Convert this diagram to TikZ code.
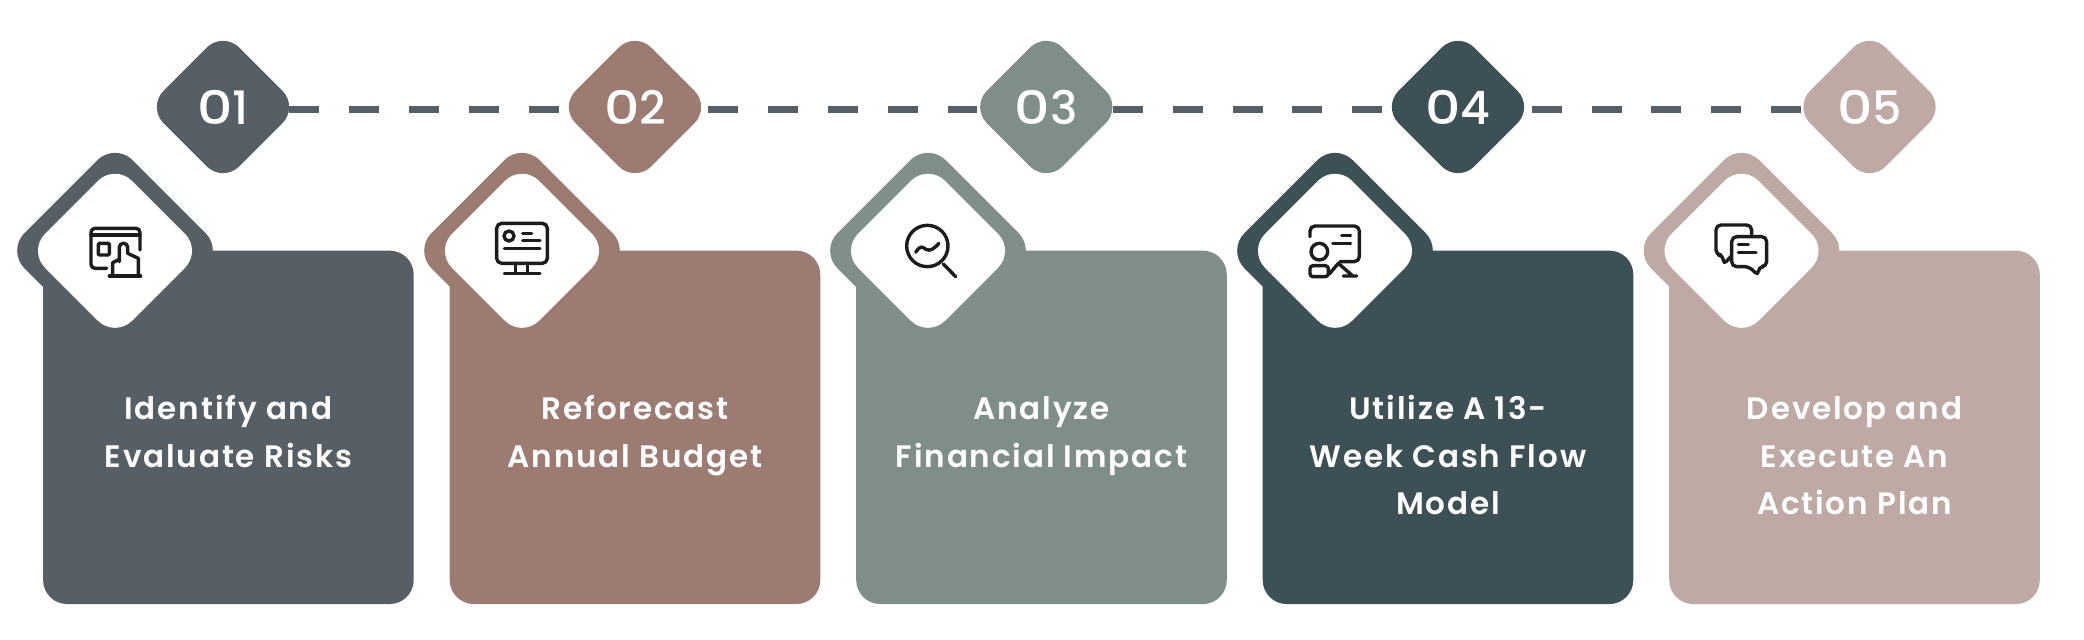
\documentclass[tikz,border=0pt]{standalone}
\usepackage{fontspec}
\usepackage{graphicx}
\newfontfamily\numfont{Poppins Medium}[LetterSpace=0]
\newfontfamily\labelfont{Poppins SemiBold}[LetterSpace=6]
\newcommand{\zr}{\scalebox{1.2}[1]{0}}
\definecolor{cA}{HTML}{555F65}
\definecolor{cB}{HTML}{9C7C72}
\definecolor{cC}{HTML}{7F8E88}
\definecolor{cD}{HTML}{3C5055}
\definecolor{cE}{HTML}{BFA9A4}
\definecolor{inkc}{HTML}{1C1C1C}
\tikzset{
  numdia/.style={shape=rectangle,rotate=45,minimum size=107pt*0.5,fill=#1,rounded corners=11.5pt,inner sep=0pt,outer sep=0pt},
  numtext/.style={text=white,inner sep=0pt,font=\numfont\fontsize{23}{23}\selectfont},
  outerdia/.style={shape=rectangle,rotate=45,minimum size=153pt*0.5,fill=#1,rounded corners=12.5pt,inner sep=0pt,outer sep=0pt},
  innerdia/.style={shape=rectangle,rotate=45,minimum size=123pt*0.5,fill=white,rounded corners=12pt,inner sep=0pt,outer sep=0pt},
  card/.style={shape=rectangle,minimum width=185.3pt,minimum height=176.7pt,fill=#1,rounded corners=12pt,inner sep=0pt,outer sep=0pt},
  cardtext/.style={text=white,align=center,inner sep=0pt,anchor=base,font=\labelfont\fontsize{15.5}{23.75}\selectfont},
  dashline/.style={draw=cA,line width=3.15pt,dash pattern=on 15pt off 14.915pt},
  icon/.style={draw=inkc,line width=1.7pt,line cap=round,line join=round},
}
\begin{document}
\begin{tikzpicture}[x=0.5pt,y=-0.5pt]
\useasboundingbox[fill=white] (0,0) rectangle (2084,640);
% number diamonds and dashed links
\node[numdia=cA] (n1) at (223,107) {};
\node[numdia=cC] (n3) at (1046.3,107) {};
\node[numdia=cE] (n5) at (1869.5,107) {};
\draw[dashline] ([shift={(33.2pt,-1.25pt)}]n1.center) -- ([shift={(-34.5pt,-1.25pt)}]n3.center);
\draw[dashline] ([shift={(33.3pt,-1.25pt)}]n3.center) -- ([shift={(-34.1pt,-1.25pt)}]n5.center);
\node[numdia=cB] (n2) at (635,107) {};
\node[numdia=cD] (n4) at (1458,107) {};
\node[numtext] (t1) at (n1.center) {\zr1};
\node[numtext] (t2) at (n2.center) {\zr2};
\node[numtext] (t3) at (n3.center) {\zr3};
\node[numtext] (t4) at (n4.center) {\zr4};
\node[numtext] (t5) at (n5.center) {\zr5};
% cards
\foreach \nm/\col/\cx/\dx/\txt/\ty in {
  a/cA/228.4/115/{Identify and\\Evaluate Risks}/467.5,
  b/cB/635/522/{Reforecast\\Annual Budget}/467.5,
  c/cC/1041.5/928/{Analyze\\Financial Impact}/467.5,
  d/cD/1448/1335/{Utilize A 13-\\Week Cash Flow\\Model}/515,
  e/cE/1854.5/1741.5/{Develop and\\Execute An\\Action Plan}/515}{
  \node[outerdia=\col] (o\nm) at (\dx,250.7) {};
  \node[card=\col] (k\nm) at (\cx,427.35) {};
  \node[innerdia] (i\nm) at (\dx,250.8) {};
  \node[cardtext] (l\nm) at (\cx,\ty) {\txt};
}
% icon 1
\begin{scope}[shift={(60,200)},scale=1/3]
\draw[icon,rounded corners=2pt] (140,205) -- (93,205) -- (93,85) -- (240,85) -- (240,150);
\draw[icon] (93,105) -- (240,105);
\draw[icon,rounded corners=.5pt] (115,130) rectangle (148,165);
\draw[icon] (148,228) -- (242,228);
\draw[icon] (158,228) -- (158,188) -- (178,178);
\draw[icon] (178,185) -- (178,142) arc[start angle=180,end angle=360,radius=12.5] -- (203,160) -- (235,175) -- (235,228);
\end{scope}
% icon 2
\begin{scope}[shift={(470,200)},scale=1/3]
\draw[icon,rounded corners=2.5pt] (80,70) rectangle (232,190);
\draw[icon] (117,108) circle[radius=15];
\draw[icon] (158,100) -- (185,100) (158,122) -- (210,122) (103,146) -- (210,146);
\draw[icon] (137,190) -- (137,220) (173,190) -- (173,220) (103,220) -- (210,220);
\end{scope}
% icon 3
\begin{scope}[shift={(880,200)},scale=1/3]
\draw[icon] (142,138) circle[radius=62];
\draw[icon] (107,157) .. controls (115,145) and (122,138) .. (130,143) .. controls (140,150) and (150,160) .. (177,130);
\draw[icon] (190,192) -- (227,230);
\end{scope}
% icon 4
\begin{scope}[shift={(1285,200)},scale=1/3]
\draw[icon,rounded corners=2.5pt] (75,110) -- (75,78) -- (223,78) -- (223,185) -- (165,185);
\draw[icon] (170,107) -- (197,107) (143,130) -- (197,130);
\draw[icon] (103,155) circle[radius=25];
\draw[icon,rounded corners=1.5pt] (75,197) rectangle (130,230);
\draw[icon] (133,222) -- (160,190) -- (200,225) (175,228) -- (215,228);
\end{scope}
% icon 5
\begin{scope}[shift={(1690,200)},scale=1/3]
\draw[icon,rounded corners=2.5pt] (122,170) -- (100,195) -- (100,165) -- (78,165) -- (78,75) -- (185,75) -- (185,108);
\draw[icon,rounded corners=2.5pt] (178,200) -- (125,200) -- (125,110) -- (230,110) -- (230,200) -- (205,200) -- (205,228) -- cycle;
\draw[icon] (145,133) -- (175,133) (145,157) -- (198,157);
\end{scope}
\end{tikzpicture}
\end{document}
